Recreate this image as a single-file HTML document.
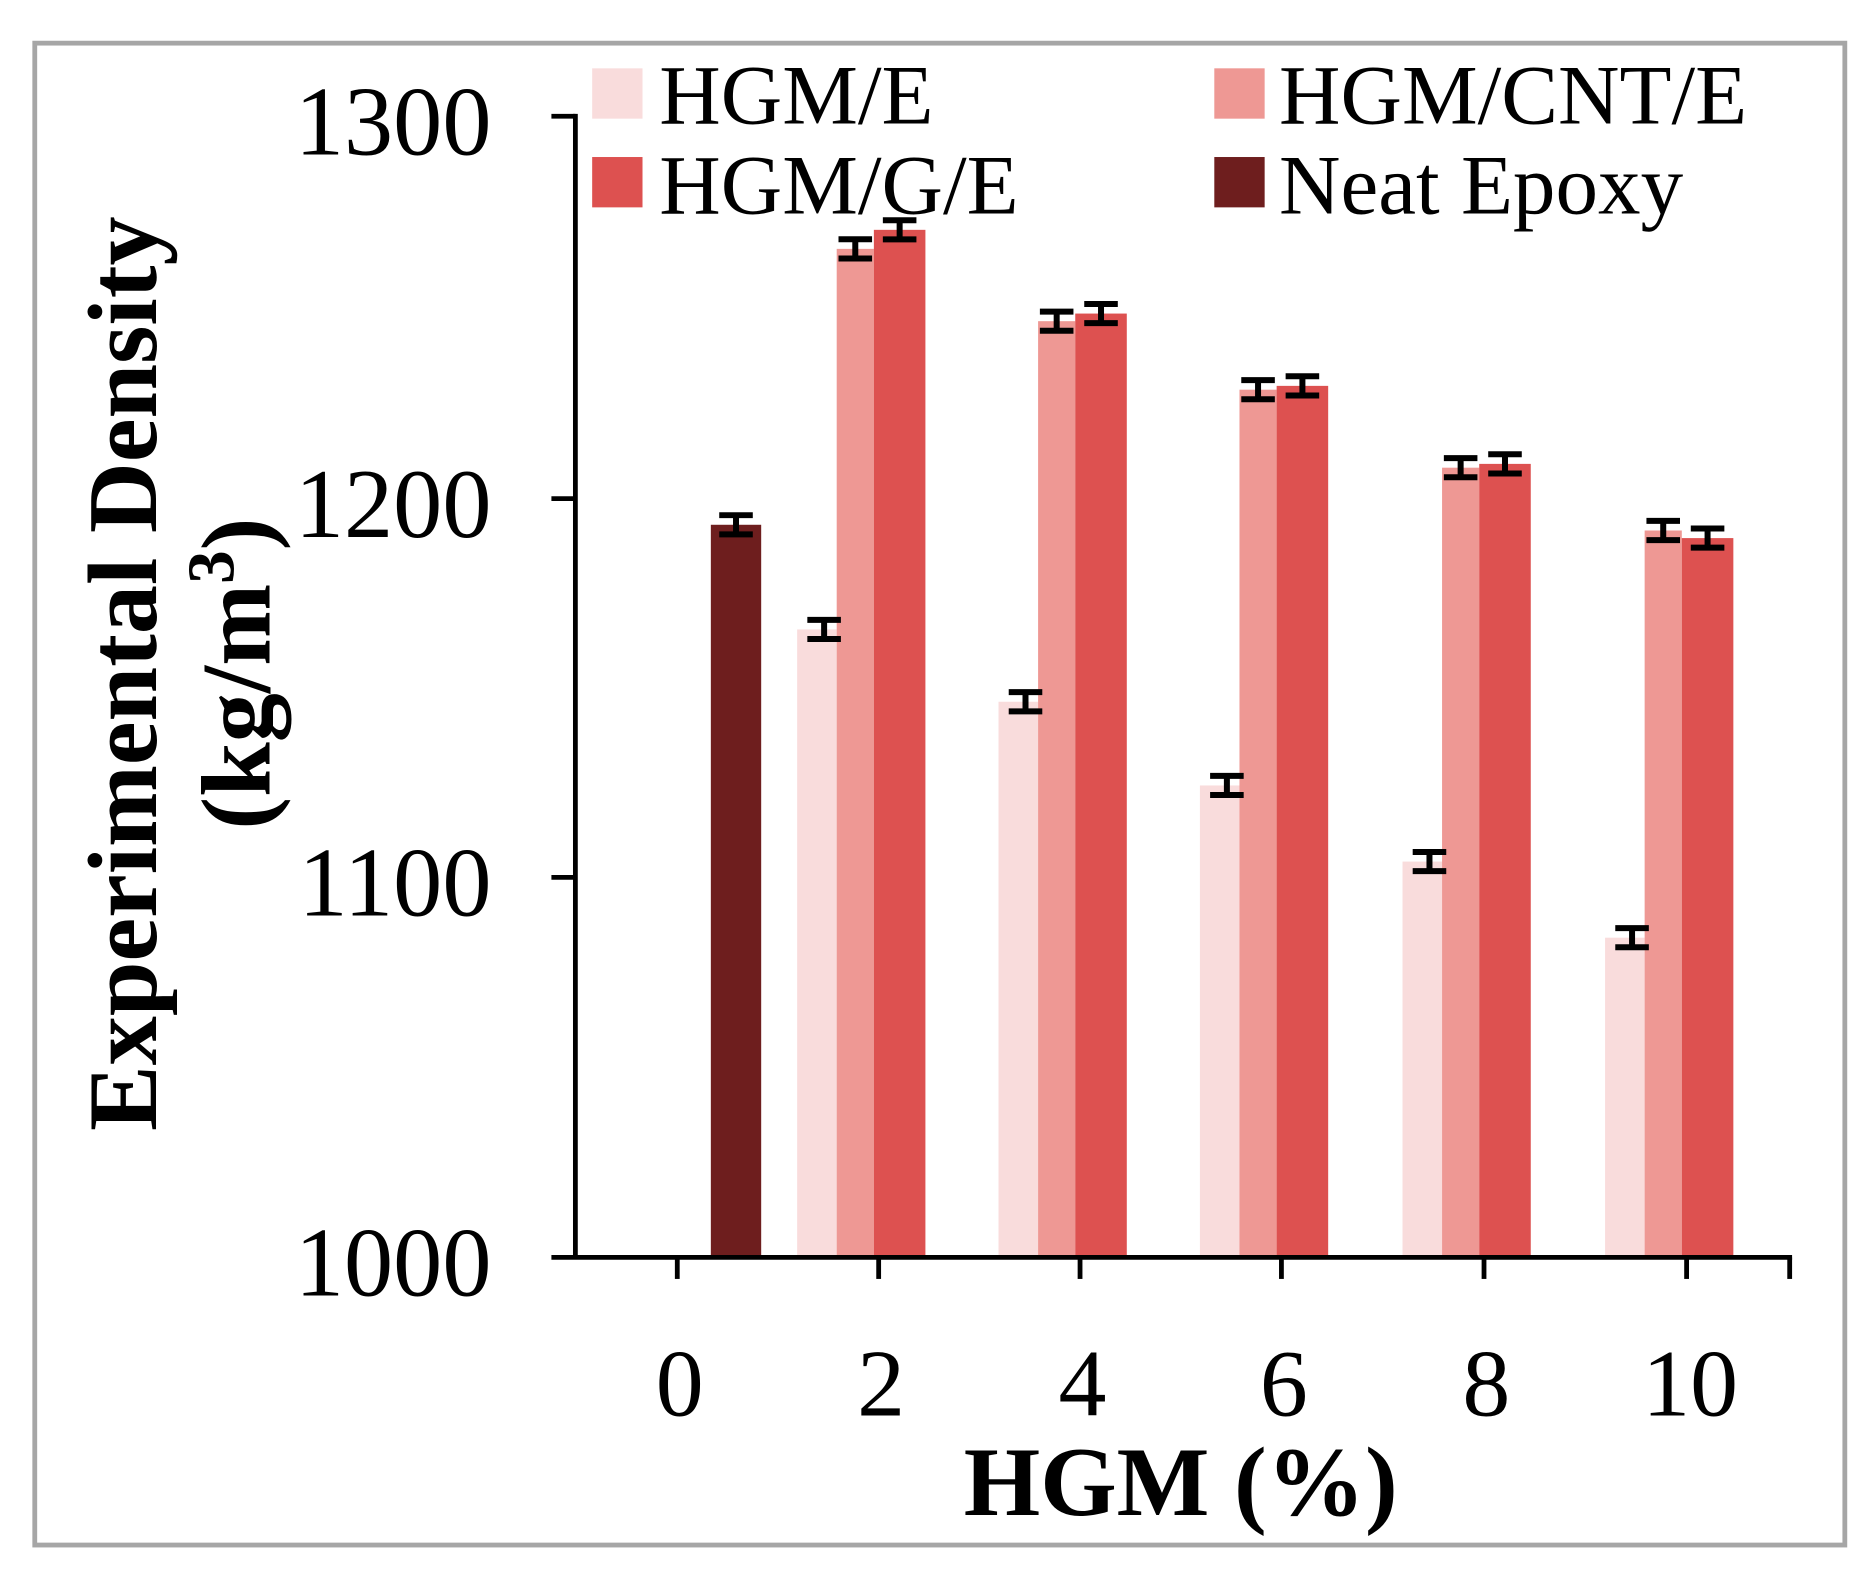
<!DOCTYPE html>
<html><head><meta charset="utf-8"><style>html,body{margin:0;padding:0;background:#fff}svg{display:block}</style></head>
<body>
<svg width="1870" height="1575" viewBox="0 0 1560 1314" preserveAspectRatio="none" xmlns="http://www.w3.org/2000/svg" font-family="Liberation Serif, serif">
<rect x="0" y="0" width="1560" height="1314" fill="#fff"/>
<rect x="29" y="36" width="1510" height="1253" fill="none" stroke="#a6a6a6" stroke-width="4"/>
<g id="bars"></g>
<g stroke="#000" stroke-width="4" fill="none">
<line x1="480" y1="95" x2="480" y2="1050"/>
<line x1="460" y1="1049" x2="1495" y2="1049"/>
<line x1="460" y1="97" x2="480" y2="97"/>
<line x1="460" y1="416" x2="480" y2="416"/>
<line x1="460" y1="732" x2="480" y2="732"/>
<line x1="565" y1="1049" x2="565" y2="1067"/>
<line x1="733" y1="1049" x2="733" y2="1067"/>
<line x1="901" y1="1049" x2="901" y2="1067"/>
<line x1="1069" y1="1049" x2="1069" y2="1067"/>
<line x1="1238" y1="1049" x2="1238" y2="1067"/>
<line x1="1407" y1="1049" x2="1407" y2="1067"/>
<line x1="1493" y1="1049" x2="1493" y2="1067"/>
</g>
<g font-size="82" text-anchor="end" fill="#000">
<text x="410" y="129">1300</text>
<text x="410" y="448">1200</text>
<text x="410" y="764">1100</text>
<text x="410" y="1081">1000</text>
</g>
<g font-size="80" text-anchor="middle" fill="#000">
<text x="567" y="1181">0</text>
<text x="735" y="1181">2</text>
<text x="903" y="1181">4</text>
<text x="1071" y="1181">6</text>
<text x="1240" y="1181">8</text>
<text x="1410" y="1181">10</text>
</g>
<text x="985" y="1264" font-size="82" font-weight="bold" text-anchor="middle">HGM (%)</text>
<g font-size="82" font-weight="bold" text-anchor="middle" transform="rotate(-90)">
<text x="-562" y="130">Experimental Density</text>
<text x="-562" y="225">(kg/m<tspan dy="-30" font-size="56">3</tspan><tspan dy="30">)</tspan></text>
</g>
<g font-size="71" fill="#000">
<rect x="494" y="57" width="42" height="42" fill="#f9dcdc"/><text x="550" y="103">HGM/E</text>
<rect x="1013" y="57" width="42" height="42" fill="#ee9894"/><text x="1067" y="103">HGM/CNT/E</text>
<rect x="494" y="131" width="42" height="42" fill="#dd5150"/><text x="550" y="178">HGM/G/E</text>
<rect x="1013" y="131" width="42" height="42" fill="#6e1e1e"/><text x="1067" y="178">Neat Epoxy</text>
</g>
<script>
(function(){
var g=document.getElementById('bars');var ns='http://www.w3.org/2000/svg';
function Y(v){return 1049-(v-1000)*3.175;}
function bar(x1,x2,v,c,e){var r=document.createElementNS(ns,'rect');r.setAttribute('x',x1);r.setAttribute('width',x2-x1);r.setAttribute('y',Y(v));r.setAttribute('height',1049-Y(v));r.setAttribute('fill',c);g.appendChild(r);
var cx=(x1+x2)/2+(e||0),y1=Y(v)-8,y2=Y(v)+8;
var p=document.createElementNS(ns,'path');p.setAttribute('d','M'+(cx-14)+' '+y1+'H'+(cx+14)+'M'+(cx-14)+' '+y2+'H'+(cx+14)+'M'+cx+' '+y1+'V'+y2);p.setAttribute('stroke','#000');p.setAttribute('stroke-width','5');p.setAttribute('fill','none');document.querySelector('svg').appendChild(p);}
bar(593,635,1192.5,'#6e1e1e');
var t=[733,901,1069,1238,1407];
var d=[[1165,1265,1270],[1146,1246,1248],[1124,1228,1229],[1104,1207.5,1208.5],[1084,1191,1189]];
for(var i=0;i<5;i++){var x=t[i];bar(x-68,x-35,d[i][0],'#f9dcdc',6);bar(x-35,x-4,d[i][1],'#ee9894',0);bar(x-4,x+39,d[i][2],'#dd5150',0);}
})();
</script>
</svg>
</body></html>
